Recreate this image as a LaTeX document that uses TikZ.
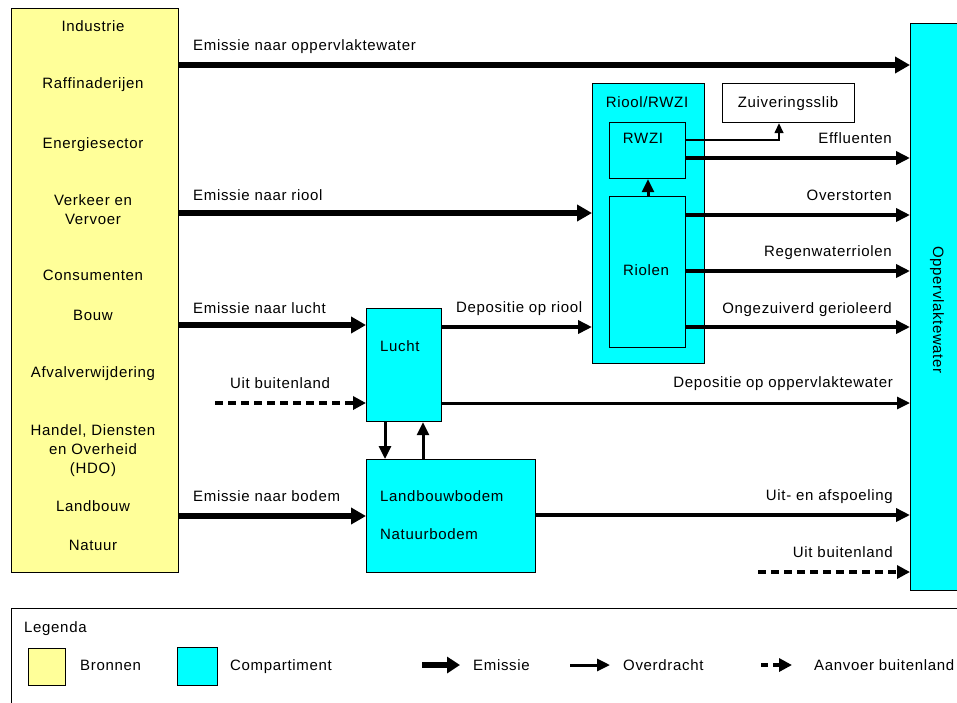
\documentclass[tikz,border=0pt]{standalone}
\usepackage{fontspec}
\setmainfont{Liberation Sans}[LetterSpace=4.5]
\usetikzlibrary{arrows.meta}
\definecolor{bronY}{RGB}{255,255,153}
\definecolor{compC}{RGB}{0,255,255}
\tikzset{
  lbl/.style={font=\fontsize{15}{18}\selectfont, inner sep=0pt},
  boxb/.style={draw=black, line width=1.2pt, anchor=north west, inner sep=0pt},
  bronbox/.style={boxb, fill=bronY},
  compbox/.style={boxb, fill=compC},
  whitebox/.style={boxb, fill=white},
  emis/.style={line width=5.5pt, -{Triangle[length=15pt,width=16pt]}},
  trans/.style={line width=4pt, -{Triangle[length=14pt,width=13pt]}},
  medar/.style={line width=3pt, -{Triangle[length=13pt,width=12pt]}},
  thinar/.style={line width=1.5pt, -{Triangle[length=10pt,width=9pt]}},
  dashar/.style={line width=4pt, dash pattern=on 8pt off 5pt, -{Triangle[length=13pt,width=13pt]}},
}
\begin{document}
\begin{tikzpicture}[x=1pt,y=-1pt]
\useasboundingbox (0,0) rectangle (957,702);
\fill[white] (0,0) rectangle (957,702);
\clip (0,0) rectangle (957,702);

% boxes
\node[bronbox, minimum width=167pt, minimum height=564pt] (bron) at (11,8) {};
\node[compbox, minimum width=60pt, minimum height=567pt] (opp) at (910,23) {};
\node[compbox, minimum width=112pt, minimum height=280pt] (riool) at (592,83) {};
\node[compbox, minimum width=76pt, minimum height=56pt] (rwzi) at (609,122) {};
\node[compbox, minimum width=76pt, minimum height=151pt] (riolen) at (609,196) {};
\node[whitebox, minimum width=132pt, minimum height=39pt] (slib) at (722,83) {};
\node[compbox, minimum width=75pt, minimum height=113pt] (lucht) at (366,308) {};
\node[compbox, minimum width=169pt, minimum height=113pt] (bodem) at (366,459) {};

% source texts
\node[lbl, anchor=base] (s1) at (93,31) {Industrie};
\node[lbl, anchor=base] (s2) at (93,88) {Raffinaderijen};
\node[lbl, anchor=base] (s3) at (93,148) {Energiesector};
\node[lbl, anchor=base] (s4) at (93,205) {Verkeer en};
\node[lbl, anchor=base] (s5) at (93,224) {Vervoer};
\node[lbl, anchor=base] (s6) at (93,280) {Consumenten};
\node[lbl, anchor=base] (s7) at (93,320) {Bouw};
\node[lbl, anchor=base] (s8) at (93,377) {Afvalverwijdering};
\node[lbl, anchor=base] (s9) at (93,435) {Handel, Diensten};
\node[lbl, anchor=base] (s10) at (93,454) {en Overheid};
\node[lbl, anchor=base] (s11) at (93,473) {(HDO)};
\node[lbl, anchor=base] (s12) at (93,511) {Landbouw};
\node[lbl, anchor=base] (s13) at (93,550) {Natuur};

% box texts
\node[lbl, anchor=base] (tr) at (647,107) {Riool/RWZI};
\node[lbl, anchor=base] (tw) at (643,143) {RWZI};
\node[lbl, anchor=base] (tz) at (788,107) {Zuiveringsslib};
\node[lbl, anchor=base] (trl) at (646,275) {Riolen};
\node[lbl, anchor=base west] (tl) at (380,351) {Lucht};
\node[lbl, anchor=base west] (tb1) at (380,501) {Landbouwbodem};
\node[lbl, anchor=base west] (tb2) at (380,539) {Natuurbodem};
\node[lbl, rotate=-90] (to) at (937,310) {Oppervlaktewater};

% connectors
\coordinate (ubl) at (215,403);
\coordinate (ubr) at (758,572);
\draw[emis] (bron.east |- 0,65) -- (opp.west |- 0,65);
\draw[emis] (bron.east |- 0,213) -- (riool.west |- 0,213);
\draw[emis] (bron.east |- 0,325) -- (lucht.west |- 0,325);
\draw[dashar] (ubl) -- (lucht.west |- ubl);
\draw[emis] (bron.east |- 0,516) -- (bodem.west |- 0,516);
\draw[trans] (lucht.east |- 0,327) -- (riool.west |- 0,327);
\draw[medar] (lucht.east |- 0,403) -- (opp.west |- 0,403);
\draw[medar] (lucht.south -| 385,0) -- (bodem.north -| 385,0);
\draw[medar] (bodem.north -| 423,0) -- (lucht.south -| 423,0);
\draw[medar] (riolen.north -| 648,0) -- (rwzi.south -| 648,0);
\draw[thinar] (rwzi.east |- 0,140) -| (slib.south -| 779,0);
\draw[trans] (rwzi.east |- 0,158) -- (opp.west |- 0,158);
\draw[trans] (riolen.east |- 0,215) -- (opp.west |- 0,215);
\draw[trans] (riolen.east |- 0,271) -- (opp.west |- 0,271);
\draw[trans] (riolen.east |- 0,327) -- (opp.west |- 0,327);
\draw[trans] (bodem.east |- 0,515) -- (opp.west |- 0,515);
\draw[dashar] (ubr) -- (opp.west |- ubr);

% connector labels
\node[lbl, anchor=base west] (l1) at (193,50) {Emissie naar oppervlaktewater};
\node[lbl, anchor=base west] (l2) at (193,200) {Emissie naar riool};
\node[lbl, anchor=base west] (l3) at (193,313) {Emissie naar lucht};
\node[lbl, anchor=base west] (l4) at (230,388) {Uit buitenland};
\node[lbl, anchor=base west] (l5) at (193,501) {Emissie naar bodem};
\node[lbl, anchor=base west] (l6) at (456,312) {Depositie op riool};
\node[lbl, anchor=base east] (l7) at (893,387) {Depositie op oppervlaktewater};
\node[lbl, anchor=base east] (l8) at (892,143) {Effluenten};
\node[lbl, anchor=base east] (l9) at (892,200) {Overstorten};
\node[lbl, anchor=base east] (l10) at (892,256) {Regenwaterriolen};
\node[lbl, anchor=base east] (l11) at (892,313) {Ongezuiverd gerioleerd};
\node[lbl, anchor=base east] (l12) at (893,500) {Uit- en afspoeling};
\node[lbl, anchor=base east] (l13) at (893,557) {Uit buitenland};

% legend
\node[boxb, fill=white, minimum width=960pt, minimum height=110pt] (leg) at (11,608) {};
\node[lbl, anchor=base west] (lg) at (24,632) {Legenda};
\node[bronbox, minimum width=37pt, minimum height=37pt] (legy) at (28,648) {};
\node[lbl, anchor=base west] (lgb) at (80,670) {Bronnen};
\node[compbox, minimum width=40pt, minimum height=38pt] (legc) at (177,647) {};
\node[lbl, anchor=base west] (lgc) at (230,670) {Compartiment};
\coordinate (le1a) at (422,665);
\coordinate (le1b) at (460,665);
\draw[line width=6pt, -{Triangle[length=13pt,width=16pt]}] (le1a) -- (le1b);
\node[lbl, anchor=base west] (lge) at (473,670) {Emissie};
\coordinate (le2a) at (570,665);
\coordinate (le2b) at (610,665);
\draw[line width=3pt, -{Triangle[length=13pt,width=12pt]}] (le2a) -- (le2b);
\node[lbl, anchor=base west] (lgo) at (623,670) {Overdracht};
\coordinate (le3a) at (761,665);
\coordinate (le3b) at (792,665);
\draw[line width=4pt, dash pattern=on 7pt off 5pt, -{Triangle[length=13pt,width=13pt]}] (le3a) -- (le3b);
\node[lbl, anchor=base west] (lga) at (814,670) {Aanvoer buitenland};
\end{tikzpicture}
\end{document}
